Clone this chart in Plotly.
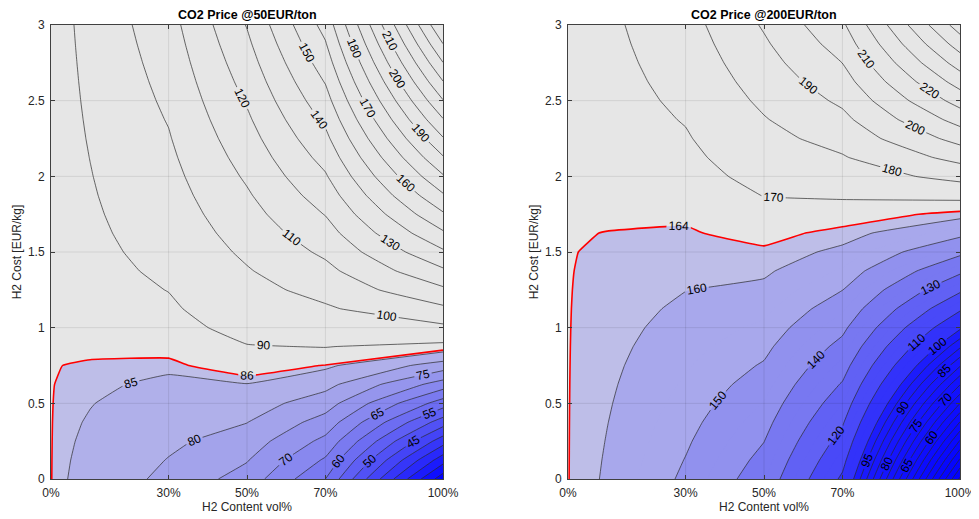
import plotly.graph_objects as go

# ---------------- data ----------------
h2_content = [0, 10, 30, 50, 70, 100]          # vol%
h2_cost = [0, 0.125, 0.25, 0.375, 0.5, 0.625, 0.75, 0.875, 1.0, 1.125, 1.25, 1.375, 1.5,
           1.625, 1.75, 1.875, 2.0, 2.125, 2.25, 2.375, 2.5, 2.625, 2.75, 2.875, 3.0]  # EUR/kg

# rows follow h2_cost, columns follow h2_content
cost_co2_50 = [
    [86.05, 83.58, 78.65, 72.9, 60.0, 17.0],
    [86.05, 83.96, 79.8, 75.3, 64.31, 27.13],
    [86.05, 84.35, 80.95, 77.7, 68.63, 37.25],
    [86.05, 84.73, 82.1, 80.1, 72.94, 47.38],
    [86.05, 85.12, 83.25, 82.5, 77.25, 57.5],
    [86.05, 85.5, 84.4, 84.9, 81.56, 67.63],
    [86.05, 85.88, 85.55, 87.3, 85.88, 77.75],
    [86.05, 86.27, 86.7, 89.7, 90.19, 87.88],
    [86.05, 86.65, 87.85, 92.1, 94.5, 98.0],
    [86.05, 87.03, 89.0, 94.5, 98.81, 108.13],
    [86.05, 87.42, 90.15, 96.9, 103.13, 118.25],
    [86.05, 87.8, 91.3, 99.3, 107.44, 128.38],
    [86.05, 88.19, 92.45, 101.7, 111.75, 138.5],
    [86.05, 88.57, 93.6, 104.1, 116.06, 148.63],
    [86.05, 88.95, 94.75, 106.5, 120.38, 158.75],
    [86.05, 89.34, 95.9, 108.9, 124.69, 168.88],
    [86.05, 89.72, 97.05, 111.3, 129.0, 179.0],
    [86.05, 90.1, 98.2, 113.7, 133.31, 189.13],
    [86.05, 90.49, 99.35, 116.1, 137.63, 199.25],
    [86.05, 90.87, 100.5, 118.5, 141.94, 209.38],
    [86.05, 91.26, 101.65, 120.9, 146.25, 219.5],
    [86.05, 91.64, 102.8, 123.3, 150.56, 229.63],
    [86.05, 92.02, 103.95, 125.7, 154.88, 239.75],
    [86.05, 92.41, 105.1, 128.1, 159.19, 249.88],
    [86.05, 92.79, 106.25, 130.5, 163.5, 260.0],
]
cost_co2_200 = [
    [164.15, 158.97, 148.6, 135.5, 108.5, 19.0],
    [164.15, 159.35, 149.75, 137.81, 112.66, 29.25],
    [164.15, 159.74, 150.9, 140.13, 116.83, 39.5],
    [164.15, 160.12, 152.05, 142.44, 120.99, 49.75],
    [164.15, 160.51, 153.2, 144.75, 125.15, 60.0],
    [164.15, 160.89, 154.35, 147.06, 129.31, 70.25],
    [164.15, 161.27, 155.5, 149.38, 133.48, 80.5],
    [164.15, 161.66, 156.65, 151.69, 137.64, 90.75],
    [164.15, 162.04, 157.8, 154.0, 141.8, 101.0],
    [164.15, 162.42, 158.95, 156.31, 145.96, 111.25],
    [164.15, 162.81, 160.1, 158.63, 150.13, 121.5],
    [164.15, 163.19, 161.25, 160.94, 154.29, 131.75],
    [164.15, 163.58, 162.4, 163.25, 158.45, 142.0],
    [164.15, 163.96, 163.55, 165.56, 162.61, 152.25],
    [164.15, 164.34, 164.7, 167.88, 166.78, 162.5],
    [164.15, 164.73, 165.85, 170.19, 170.94, 172.75],
    [164.15, 165.11, 167.0, 172.5, 175.1, 183.0],
    [164.15, 165.49, 168.15, 174.81, 179.26, 193.25],
    [164.15, 165.88, 169.3, 177.13, 183.43, 203.5],
    [164.15, 166.26, 170.45, 179.44, 187.59, 213.75],
    [164.15, 166.65, 171.6, 181.75, 191.75, 224.0],
    [164.15, 167.03, 172.75, 184.06, 195.91, 234.25],
    [164.15, 167.41, 173.9, 186.38, 200.08, 244.5],
    [164.15, 167.8, 175.05, 188.69, 204.24, 254.75],
    [164.15, 168.18, 176.2, 191.0, 208.4, 265.0],
]

thresholds = [86, 164]
titles = ["CO2 Price @50EUR/ton", "CO2 Price @200EUR/ton"]
x_tickvals = [0, 30, 50, 70, 100]
x_ticktext = ["0%", "30%", "50%", "70%", "100%"]
y_tickvals = [0, 0.5, 1, 1.5, 2, 2.5, 3]
y_ticktext = ["0", "0.5", "1", "1.5", "2", "2.5", "3"]

# ---------------- styling ----------------
FONT = "Liberation Sans, Arial, Helvetica, sans-serif"
GREY = "#e6e6e6"
LINE = "#2b2b2b"
LABELFONT = dict(family=FONT, size=12, color="black")
SMOOTH = 0.3


def rgb(c):
    return "rgb(%d,%d,%d)" % tuple(int(round(v)) for v in c)


def band_scale(colors):
    n = len(colors) - 1
    return [[k / n, rgb(c)] for k, c in enumerate(colors)]


# left: bands <20,20-25,...,80-85,>85  (15 bands)
left_colors = []
for k in range(15):
    t = k / 14
    left_colors.append((190 * t, 190 * t, 255 - 23 * t))

# right: bands <20,20-25,...,155-160,>160 (30 bands)
right_step10 = {  # lower bound of 10-unit band -> colour
    100: (50, 50, 250), 110: (73, 73, 248), 120: (97, 97, 244),
    130: (120, 120, 241), 140: (145, 145, 238), 150: (168, 168, 236),
}
right_colors = []
for k in range(30):
    lo = 20 + (k - 1) * 5
    if k == 29:
        c = (190, 190, 232)
    elif lo >= 100:
        c = right_step10[(lo // 10) * 10]
    else:
        t = max(k, 0) / 16
        c = (28 * t, 28 * t, 255 - 3 * t)
    right_colors.append(c)

fig = go.Figure()

panels = [
    dict(z=cost_co2_50, thr=thresholds[0], xa="x", ya="y",
         fill=dict(start=20, end=85, size=5), scale=band_scale(left_colors),
         fill_lines=True,
         lines=[dict(start=90, end=260, size=10)]),
    dict(z=cost_co2_200, thr=thresholds[1], xa="x2", ya="y2",
         fill=dict(start=20, end=160, size=5), scale=band_scale(right_colors),
         fill_lines=False,
         lines=[dict(start=110, end=260, size=10), dict(start=20, end=100, size=5)]),
]

for p in panels:
    common = dict(x=h2_content, y=h2_cost, z=p["z"], xaxis=p["xa"], yaxis=p["ya"],
                  showscale=False, hoverinfo="skip")
    # coloured bands below threshold
    fig.add_trace(go.Contour(
        **common, autocontour=False,
        contours=dict(coloring="fill", showlabels=p["fill_lines"], labelfont=LABELFONT,
                      **p["fill"]),
        colorscale=p["scale"],
        line=dict(color=LINE if p["fill_lines"] else "rgba(0,0,0,0)",
                  width=0.7 if p["fill_lines"] else 0, smoothing=SMOOTH),
    ))
    # grey region above threshold (constraint shading marks the excluded side)
    fig.add_trace(go.Contour(
        **common,
        contours=dict(type="constraint", operation="<", value=p["thr"]),
        fillcolor=GREY,
        line=dict(color="rgba(0,0,0,0)", width=0, smoothing=SMOOTH),
    ))
    # black iso-lines
    for lv in p["lines"]:
        fig.add_trace(go.Contour(
            **common, autocontour=False,
            contours=dict(coloring="none", showlabels=True, labelfont=LABELFONT, **lv),
            line=dict(color=LINE, width=0.7, smoothing=SMOOTH),
        ))
    # red threshold line
    fig.add_trace(go.Contour(
        **common, autocontour=False,
        contours=dict(coloring="none", showlabels=True, labelfont=LABELFONT,
                      start=p["thr"], end=p["thr"] + 0.5, size=1),
        line=dict(color="#ff0000", width=1.6, smoothing=SMOOTH),
    ))

# grid lines drawn above the fills
shapes = []
for xa, ya in [("x", "y"), ("x2", "y2")]:
    for xv in x_tickvals[1:-1]:
        shapes.append(dict(type="line", xref=xa, yref=ya, x0=xv, x1=xv,
                           y0=y_tickvals[0], y1=y_tickvals[-1], layer="above",
                           line=dict(color="rgba(0,0,0,0.09)", width=1)))
    for yv in y_tickvals[1:-1]:
        shapes.append(dict(type="line", xref=xa, yref=ya, y0=yv, y1=yv,
                           x0=x_tickvals[0], x1=x_tickvals[-1], layer="above",
                           line=dict(color="rgba(0,0,0,0.09)", width=1)))

axis_common = dict(showgrid=False, zeroline=False, showline=True, linecolor="#404040",
                   linewidth=1, mirror="ticks", ticks="inside", ticklen=4,
                   tickcolor="#404040", tickfont=dict(family=FONT, size=12, color="#262626"),
                   layer="above traces", automargin=False)
xaxis = dict(axis_common, range=[0, 100], tickvals=x_tickvals, ticktext=x_ticktext,
             ticklabelstandoff=3,
             title=dict(text="H2 Content vol%", font=dict(family=FONT, size=12, color="#262626"),
                        standoff=3))
yaxis = dict(axis_common, range=[0, 3], tickvals=y_tickvals, ticktext=y_ticktext,
             ticklabelstandoff=3,
             title=dict(text="H2 Cost [EUR/kg]", font=dict(family=FONT, size=12, color="#262626"),
                        standoff=3))

# the page body adds an 8px offset; figure pixel = page pixel - 8
OFF = 8
W, H = 979 - OFF, 519 - OFF
PL, PR, PR2L, PR2R, PT, PB = 51, 443, 568, 960, 24.5, 479   # page pixels of plot areas
ML, MT = PL - OFF, PT - OFF
MR = W - (PR2R - OFF)
MB = H - (PB - OFF)
PW = W - ML - MR
PH = H - MT - MB


def to_paper_x(px):
    return (px - OFF - ML) / PW


def to_paper_y(py):
    return (H - (py - OFF) - MB) / PH


fig.update_layout(
    width=W, height=H,
    margin=dict(l=ML, r=MR, t=MT, b=MB, pad=0),
    paper_bgcolor="white", plot_bgcolor=GREY,
    showlegend=False,
    font=dict(family=FONT, size=12, color="#262626"),
    xaxis=dict(xaxis, domain=[0, to_paper_x(PR)], anchor="y"),
    yaxis=dict(yaxis, domain=[0, 1], anchor="x"),
    xaxis2=dict(xaxis, domain=[to_paper_x(PR2L), 1], anchor="y2"),
    yaxis2=dict(yaxis, domain=[0, 1], anchor="x2"),
    shapes=shapes,
    annotations=[
        dict(text="<b>%s</b>" % titles[0], x=to_paper_x((PL + PR) / 2), y=to_paper_y(14),
             xref="paper", yref="paper", showarrow=False, xanchor="center", yanchor="middle",
             font=dict(family=FONT, size=12.5, color="black")),
        dict(text="<b>%s</b>" % titles[1], x=to_paper_x((PR2L + PR2R) / 2), y=to_paper_y(14),
             xref="paper", yref="paper", showarrow=False, xanchor="center", yanchor="middle",
             font=dict(family=FONT, size=12.5, color="black")),
    ],
)

fig.write_html("out.html")
